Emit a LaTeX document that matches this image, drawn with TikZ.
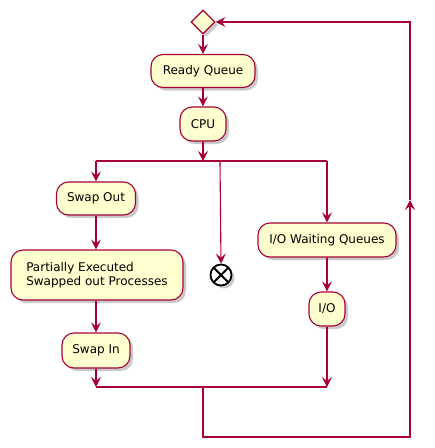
\documentclass[tikz,border=0pt]{standalone}
\usepackage{fontspec}
\setmainfont{DejaVu Sans}
\usetikzlibrary{arrows.meta,shapes.geometric,shadows}
\definecolor{pumlborder}{HTML}{A80036}
\definecolor{pumlfill}{HTML}{FEFECE}
\tikzset{
  pshadow/.style={drop shadow={shadow xshift=3pt,shadow yshift=-3pt,opacity=0.35,fill=black!60}},
  actbox/.style={draw=pumlborder,fill=pumlfill,line width=1.1pt,rounded corners=12pt,
    inner sep=0pt,font=\fontsize{12}{14.5}\selectfont,pshadow},
  flow/.style={draw=pumlborder,line width=1.1pt},
  arr/.style={flow,-{Stealth[length=10pt,width=10pt,inset=4pt]}},
}
\begin{document}
\begin{tikzpicture}[x=1pt,y=-1pt]
\useasboundingbox (0,0) rectangle (435,448);
% nodes
\node[diamond,draw=pumlborder,fill=pumlfill,line width=1.1pt,minimum width=24pt,minimum height=24pt,inner sep=0pt,pshadow] (d) at (203,22) {};
\node[actbox,minimum width=104pt,minimum height=33pt] (rq) at (203,71) {Ready Queue};
\node[actbox,minimum width=46pt,minimum height=34pt] (cpu) at (203,124) {CPU};
\node[actbox,minimum width=79pt,minimum height=33pt] (so) at (96,198.5) {Swap Out};
\node[actbox,minimum width=172pt,minimum height=50pt,align=left] (pe) at (97,275) {Partially Executed\\Swapped out Processes};
\node[actbox,minimum width=68pt,minimum height=35pt] (si) at (96,350.5) {Swap In};
\node[circle,draw=black,fill=white,line width=1.8pt,minimum size=21pt,inner sep=0pt,pshadow] (end) at (221,275) {};
\draw[black,line width=1.8pt] ([shift={(-7.4,-7.4)}]end.center) -- ([shift={(7.4,7.4)}]end.center)
  ([shift={(-7.4,7.4)}]end.center) -- ([shift={(7.4,-7.4)}]end.center);
\node[actbox,minimum width=138pt,minimum height=34pt] (iow) at (327,240) {I/O Waiting Queues};
\node[actbox,minimum width=36pt,minimum height=34pt] (io) at (327,309) {I/O};
% coordinates
\coordinate (fc) at (203,161);
\coordinate (fl) at (96,161);
\coordinate (fm) at (220,161);
\coordinate (fr) at (327,161);
\coordinate (jl) at (96,387);
\coordinate (jc) at (203,387);
\coordinate (jr) at (327,387);
\coordinate (lb) at (203,437);
\coordinate (lr) at (410,437);
\coordinate (la) at (410,200);
\coordinate (lt) at (410,22);
% connectors
\draw[arr] (d.south) -- (rq.north);
\draw[arr] (rq.south) -- (cpu.north);
\draw[arr] (cpu.south) -- (fc);
\draw[flow] (fl) -- (fr);
\draw[arr] (fl) -- (so.north);
\draw[arr] (fm) -- (end.north);
\draw[arr] (fr) -- (iow.north);
\draw[arr] (so.south) -- (pe.north -| so.south);
\draw[arr] (pe.south -| si.north) -- (si.north);
\draw[arr] (si.south) -- (jl);
\draw[arr] (iow.south) -- (io.north);
\draw[arr] (io.south) -- (jr);
\draw[flow] (jl) -- (jr);
\draw[arr] (jc) -- (lb) -- (lr) -- (la);
\draw[arr] (la) -- (lt) -- (d.east);
\end{tikzpicture}
\end{document}
